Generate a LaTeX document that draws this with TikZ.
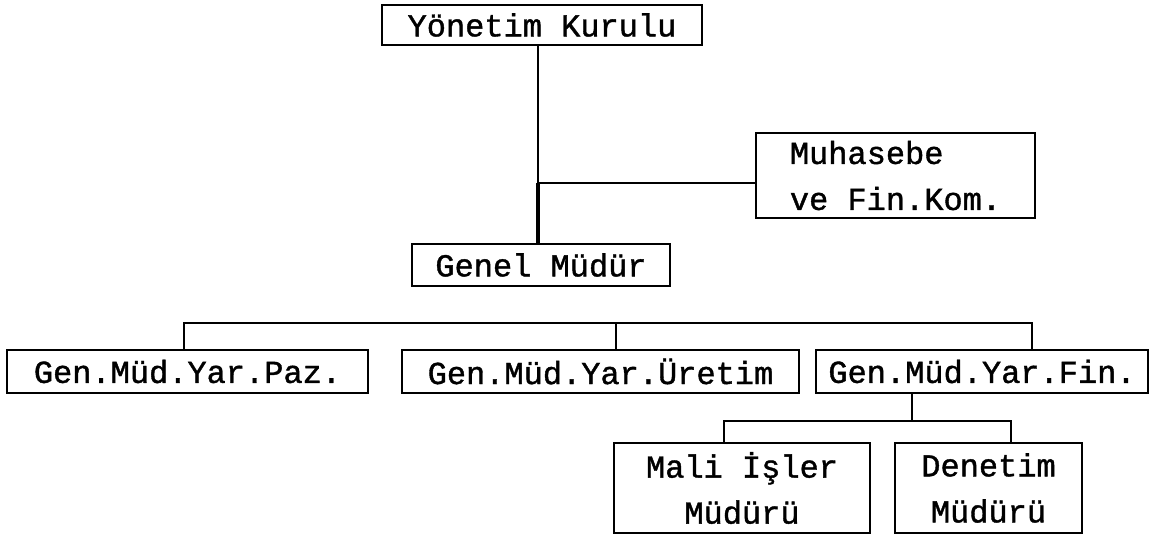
\documentclass[tikz,border=0pt]{standalone}
\usepackage{fontspec}
\newfontfamily\twfont[FakeBold=1.2]{Liberation Mono}
\begin{document}
\begin{tikzpicture}[x=1pt,y=-1pt,
  box/.style={draw, line width=2pt, inner sep=0pt, font=\twfont\fontsize{32}{46}\selectfont},
  conn/.style={line width=2pt},
  thickconn/.style={line width=4.5pt}]
\useasboundingbox (0,0) rectangle (1172,540);
\node[box, minimum width=320, minimum height=40] (yk) at (542,25) {Yönetim Kurulu};
\node[box, minimum width=258, minimum height=42] (gm) at (541,265) {Genel Müdür};
\node[box, minimum width=279, minimum height=85, align=left] (mf) at (895.5,175.5) {Muhasebe\\ve Fin.Kom.};
\node[box, minimum width=361, minimum height=43] (paz) at (187.5,371.5) {Gen.Müd.Yar.Paz.};
\node[box, minimum width=397, minimum height=43] (ure) at (600.5,371.5) {Gen.Müd.Yar.Üretim};
\node[box, minimum width=332, minimum height=43] (fin) at (982,371.5) {Gen.Müd.Yar.Fin.};
\node[box, minimum width=256, minimum height=90, align=center] (mali) at (742,488) {Mali İşler\\Müdürü};
\node[box, minimum width=187, minimum height=90, align=center] (den) at (988.5,488) {Denetim\\Müdürü};
% top connectors
\coordinate (j1) at (538,183);
\draw[conn] (yk.south -| j1) -- (j1);
\draw[thickconn] (j1) -- (gm.north -| j1);
\draw[conn] (j1) -- (mf.west |- j1);
% second level bar
\coordinate (b1) at (184,323);
\coordinate (b2) at (616,323);
\coordinate (b3) at (1032,323);
\draw[conn] (paz.north -| b1) -- (b1) -- (b3) -- (fin.north -| b3);
\draw[conn] (b2) -- (ure.north -| b2);
% third level
\coordinate (f) at (912,421);
\coordinate (m1) at (724,421);
\coordinate (m2) at (1011,421);
\draw[conn] (fin.south -| f) -- (f);
\draw[conn] (mali.north -| m1) -- (m1) -- (m2) -- (den.north -| m2);
\end{tikzpicture}
\end{document}
